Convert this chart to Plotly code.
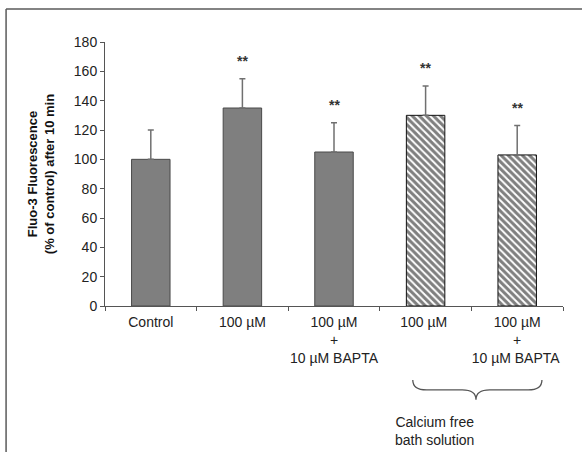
import plotly.graph_objects as go

# Data
categories = ["Control", "100 µM", "100 µM<br>+<br>10 µM BAPTA",
              "100 µM ", "100 µM<br>+<br>10 µM BAPTA "]
means = [100, 135, 105, 130, 103]
errors = [20, 20, 20, 20, 20]
significance = ["", "**", "**", "**", "**"]
hatched = [False, False, False, True, True]
y_ticks = [0, 20, 40, 60, 80, 100, 120, 140, 160, 180]

FONT = "Liberation Sans, Arial, sans-serif"
GRAY = "#7f7f7f"
EDGE = "#4a4a4a"

fig = go.Figure()

solid_idx = [i for i, h in enumerate(hatched) if not h]
hatch_idx = [i for i, h in enumerate(hatched) if h]

fig.add_trace(go.Bar(
    x=[categories[i] for i in solid_idx],
    y=[means[i] for i in solid_idx],
    error_y=dict(type="data", array=[errors[i] for i in solid_idx],
                 arrayminus=[0] * len(solid_idx), symmetric=False,
                 color="#707070", thickness=1.5, width=3),
    marker=dict(color=GRAY, line=dict(color=EDGE, width=1)),
    width=0.42, showlegend=False,
))
fig.add_trace(go.Bar(
    x=[categories[i] for i in hatch_idx],
    y=[means[i] for i in hatch_idx],
    error_y=dict(type="data", array=[errors[i] for i in hatch_idx],
                 arrayminus=[0] * len(hatch_idx), symmetric=False,
                 color="#707070", thickness=1.5, width=3),
    marker=dict(color="white", line=dict(color="#111111", width=1),
                pattern=dict(shape="\\", size=5, solidity=0.6,
                             fgcolor="#000000", bgcolor="white")),
    width=0.42, showlegend=False,
))

# significance markers above error bars
for c, m, e, s in zip(categories, means, errors, significance):
    if s:
        fig.add_annotation(x=c, y=m + e, text="<b>**</b>", showarrow=False,
                           yshift=18, font=dict(family=FONT, size=14, color="#333333"))

# category geometry in paper coordinates (range -0.5..4.5)
n = len(categories)
def px(i):
    return (i + 0.5) / n

# curly brace under the calcium-free group
xl, xr = px(2.86), px(4.27)
xm = px(3.55)
y_top, y_bot = -0.28, -0.355
ym = (y_top + y_bot) / 2
brace = (f"M {xl},{y_top} Q {xl},{ym} {xl+0.03},{ym} "
         f"L {xm-0.03},{ym} Q {xm},{ym} {xm},{y_bot} "
         f"Q {xm},{ym} {xm+0.03},{ym} L {xr-0.03},{ym} Q {xr},{ym} {xr},{y_top}")
fig.add_shape(type="path", xref="paper", yref="paper", path=brace,
              line=dict(color="#555555", width=1.3))
fig.add_annotation(x=xm, y=-0.402, xref="paper", yref="paper",
                   text="Calcium free<br>bath solution", showarrow=False,
                   font=dict(family=FONT, size=14, color="#222222"),
                   yanchor="top", align="center")

# outer frame lines (left and top)
fig.add_shape(type="line", xref="paper", yref="paper",
              x0=-0.216, x1=-0.216, y0=1.125, y1=-0.56,
              line=dict(color="#5a5a5a", width=1.5))
fig.add_shape(type="line", xref="paper", yref="paper",
              x0=-0.216, x1=1.05, y0=1.125, y1=1.125,
              line=dict(color="#5a5a5a", width=1.5))

fig.update_layout(
    width=582, height=452,
    margin=dict(l=105, r=19, t=42, b=146),
    paper_bgcolor="white", plot_bgcolor="white",
    font=dict(family=FONT, color="#222222"),
    bargap=0.58,
    xaxis=dict(type="category", tickson="boundaries", ticks="outside",
               ticklen=4, tickcolor="#555555", showline=True,
               linecolor="#555555", linewidth=1, showgrid=False,
               tickangle=0, ticklabelstandoff=3,
               tickfont=dict(family=FONT, size=14, color="#222222"),
               range=[-0.5, 4.5]),
    yaxis=dict(range=[0, 180], tickvals=y_ticks, ticks="outside",
               ticklen=4, tickcolor="#555555", showline=True,
               linecolor="#555555", linewidth=1, showgrid=False,
               zeroline=False,
               tickfont=dict(family=FONT, size=14, color="#222222"),
               title=dict(text="<b>Fluo-3 Fluorescence<br>(% of control) after 10 min</b>",
                          font=dict(family=FONT, size=13, color="#111111"),
                          standoff=16)),
)

fig.write_html("out.html")
